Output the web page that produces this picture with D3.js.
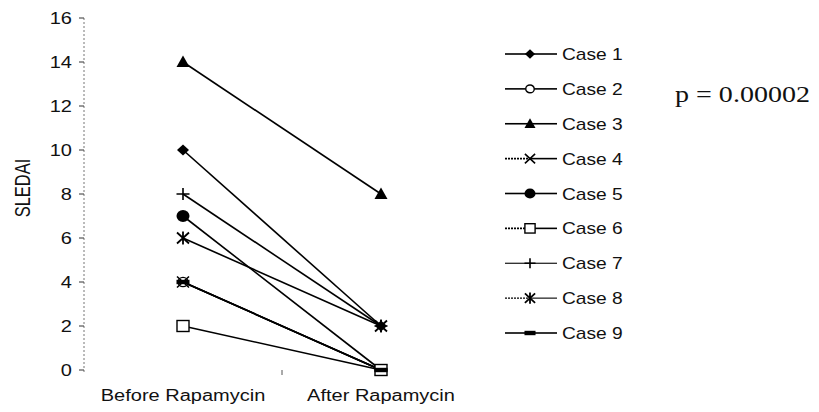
<!DOCTYPE html>
<html>
<head>
<meta charset="utf-8">
<script src="https://cdn.jsdelivr.net/npm/d3@7"></script>
<style>
  html, body { margin: 0; padding: 0; background: #fff; }
  svg { display: block; }
  text { fill: #111; }
</style>
</head>
<body>
<svg id="chart" width="819" height="412"></svg>
<script>
// ---- data ----
const categories = ["Before Rapamycin", "After Rapamycin"];
const caseNames = ["Case 1", "Case 2", "Case 3", "Case 4", "Case 5", "Case 6", "Case 7", "Case 8", "Case 9"];
const markerTypes = ["diamond", "circleOpen", "triangle", "x", "circle", "squareOpen", "plus", "asterisk", "bar"];
const beforeValues = [10, 4, 14, 4, 7, 2, 8, 6, 4];
const afterValues  = [2, 0, 8, 0, 0, 0, 2, 2, 0];
const yTicks = [0, 2, 4, 6, 8, 10, 12, 14, 16];
const yLabel = "SLEDAI";
const pLabel = "p = 0.00002";

// ---- layout ----
const SANS = "'Liberation Sans', Arial, sans-serif";
const SERIF = "'Liberation Serif', 'Times New Roman', serif";
const svg = d3.select("#chart");
const SX = 1.25; // horizontal stretch of text, as in reference
const x = d3.scaleBand().domain(categories).range([84, 480]).padding(0);
const y = d3.scaleLinear().domain([0, 16]).range([370, 18]);

// y axis (dotted line)
svg.append("line")
  .attr("x1", 84).attr("x2", 84)
  .attr("y1", y(16)).attr("y2", y(0) + 2)
  .attr("stroke", "#777").attr("stroke-width", 1)
  .attr("stroke-dasharray", "2,2");

const yAxis = svg.append("g");
yTicks.forEach(t => {
  yAxis.append("line")
    .attr("x1", 79).attr("x2", 84)
    .attr("y1", y(t)).attr("y2", y(t))
    .attr("stroke", "#333").attr("stroke-width", 1);
  yAxis.append("text")
    .attr("transform", `translate(72,${y(t) + 5.5}) scale(${SX},1)`)
    .attr("text-anchor", "end")
    .style("font-family", SANS)
    .style("font-size", "16px")
    .text(t);
});

// y label
svg.append("text")
  .attr("transform", `translate(30,188) rotate(-90) scale(1,1.3)`)
  .attr("text-anchor", "middle")
  .style("font-family", SANS)
  .style("font-size", "16.5px")
  .text(yLabel);

// x category labels + separator tick
categories.forEach(c => {
  svg.append("text")
    .attr("transform", `translate(${x(c) + x.bandwidth() / 2},401) scale(${SX},1)`)
    .attr("text-anchor", "middle")
    .style("font-family", SANS)
    .style("font-size", "16px")
    .text(c);
});
svg.append("line")
  .attr("x1", x(categories[1])).attr("x2", x(categories[1]))
  .attr("y1", y(0)).attr("y2", y(0) + 5)
  .attr("stroke", "#555").attr("stroke-width", 1);

// markers
function drawMarker(g, type, k) {
  switch (type) {
    case "diamond":
      g.append("path").attr("d", `M0,${-5.5*k} L${6*k},0 L0,${5.5*k} L${-6*k},0Z`).attr("fill", "#000");
      break;
    case "circleOpen":
      g.append("ellipse").attr("rx", 5*k).attr("ry", 4.6*k).attr("fill", "#fff").attr("stroke", "#000").attr("stroke-width", 1.4);
      break;
    case "triangle":
      g.append("path").attr("d", `M0,${-6.5*k} L${6.5*k},${5*k} L${-6.5*k},${5*k}Z`).attr("fill", "#000");
      break;
    case "x":
      g.append("path").attr("d", `M${-6*k},${-5.5*k} L${6*k},${5.5*k} M${6*k},${-5.5*k} L${-6*k},${5.5*k}`).attr("stroke", "#000").attr("stroke-width", 1.6);
      break;
    case "circle":
      g.append("ellipse").attr("rx", 6.5*k).attr("ry", 6*k).attr("fill", "#000");
      break;
    case "squareOpen":
      g.append("rect").attr("x", -6*k).attr("y", -5.5*k).attr("width", 12*k).attr("height", 11*k).attr("fill", "#fff").attr("stroke", "#000").attr("stroke-width", 1.4);
      break;
    case "plus":
      g.append("path").attr("d", `M${-6.5*k},0 L${6.5*k},0 M0,${-6*k} L0,${6*k}`).attr("stroke", "#000").attr("stroke-width", 1.6);
      break;
    case "asterisk":
      g.append("path").attr("d", `M${-6*k},${-5.5*k} L${6*k},${5.5*k} M${6*k},${-5.5*k} L${-6*k},${5.5*k} M0,${-6.5*k} L0,${6.5*k}`).attr("stroke", "#000").attr("stroke-width", 1.8);
      break;
    case "bar":
      g.append("rect").attr("x", -6.5*k).attr("y", -2.2).attr("width", 13*k).attr("height", 4.4).attr("fill", "#000");
      break;
  }
}

const cx0 = x(categories[0]) + x.bandwidth() / 2;
const cx1 = x(categories[1]) + x.bandwidth() / 2;

// lines
const lineG = svg.append("g");
caseNames.forEach((name, i) => {
  lineG.append("line")
    .attr("x1", cx0).attr("y1", y(beforeValues[i]))
    .attr("x2", cx1).attr("y2", y(afterValues[i]))
    .attr("stroke", "#000").attr("stroke-width", 1.6);
});
// points
caseNames.forEach((name, i) => {
  drawMarker(svg.append("g").attr("transform", `translate(${cx0},${y(beforeValues[i])})`), markerTypes[i], 1);
  drawMarker(svg.append("g").attr("transform", `translate(${cx1},${y(afterValues[i])})`), markerTypes[i], 1);
});

// legend
const legend = svg.append("g");
const legY = d3.scalePoint().domain(caseNames).range([54, 333]);
caseNames.forEach((name, i) => {
  const ly = legY(name);
  const t = markerTypes[i];
  const thin = (t === "plus" || t === "asterisk");
  const dottedLeft = (t === "x" || t === "squareOpen" || t === "asterisk");
  const sw = thin ? 1.1 : 1.6;
  legend.append("line")
    .attr("x1", 505).attr("x2", 530).attr("y1", ly).attr("y2", ly)
    .attr("stroke", "#000").attr("stroke-width", sw)
    .attr("stroke-dasharray", dottedLeft ? "2,1" : null);
  legend.append("line")
    .attr("x1", 530).attr("x2", 557).attr("y1", ly).attr("y2", ly)
    .attr("stroke", "#000").attr("stroke-width", sw);
  drawMarker(legend.append("g").attr("transform", `translate(530,${ly})`), t, 0.85);
  legend.append("text")
    .attr("transform", `translate(562,${ly + 6}) scale(1.2,1)`)
    .style("font-family", SANS)
    .style("font-size", "16px")
    .text(name);
});

// p-value
svg.append("text")
  .attr("transform", `translate(675,102) scale(1.22,1)`)
  .style("font-family", SERIF)
  .style("font-size", "23px")
  .text(pLabel);
</script>
</body>
</html>
